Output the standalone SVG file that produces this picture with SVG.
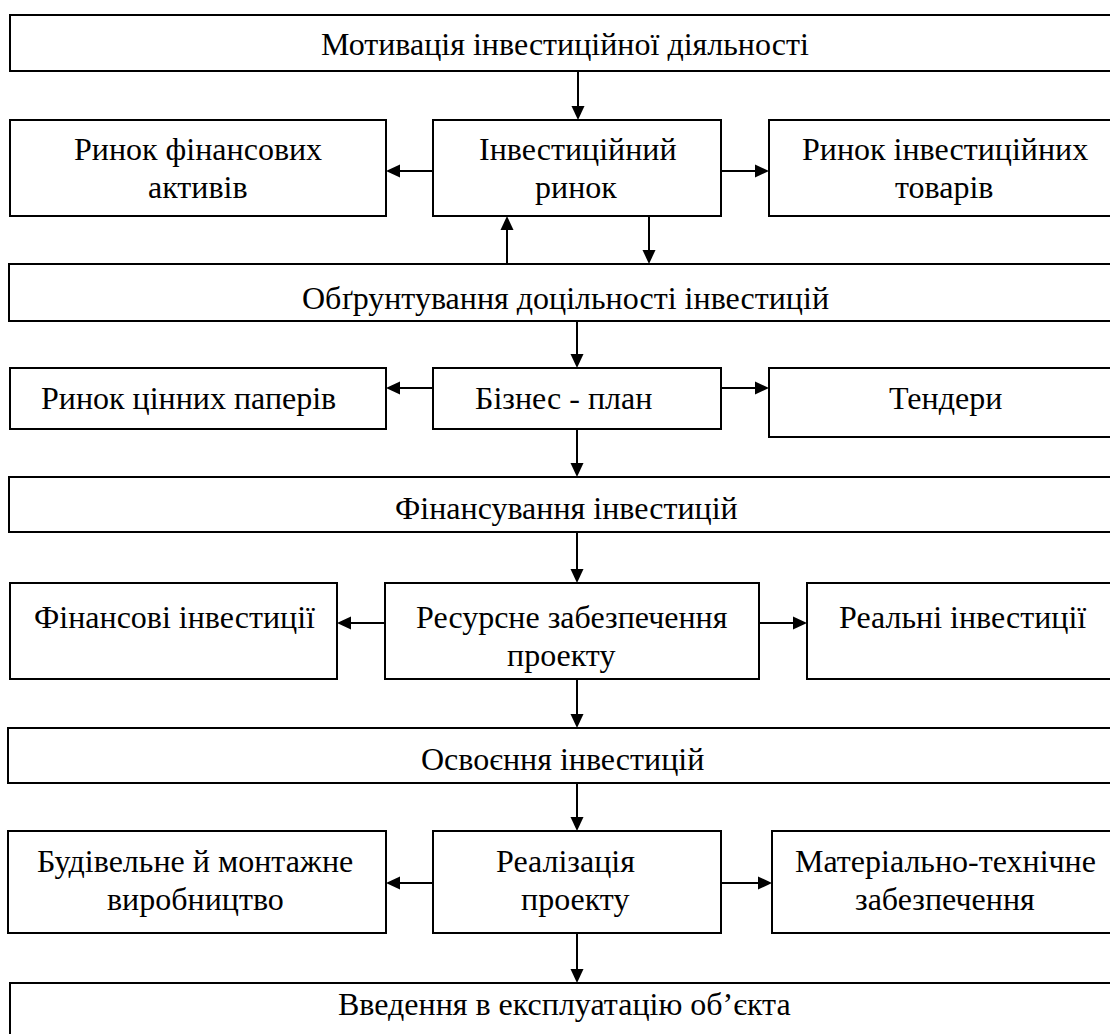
<svg xmlns="http://www.w3.org/2000/svg" width="1110" height="1034" viewBox="0 0 1110 1034">
  <defs>
    <!-- arrowhead, tip at origin, pointing along +x -->
    <path id="head" d="M0,0 L-14,-6.5 L-14,6.5 Z" fill="#000000"/>
  </defs>
  <rect width="1110" height="1034" fill="#ffffff"/>

  <!-- boxes share one stroke; each label line starts at its own x -->
  <g id="nodes" fill="#ffffff" stroke="#000000" stroke-width="2">
    <g id="motivation"><rect x="10" y="15" width="1115" height="56"/></g>
    <g id="fin-assets-market"><rect x="10" y="120" width="376" height="96"/></g>
    <g id="investment-market"><rect x="433" y="120" width="288" height="96"/></g>
    <g id="inv-goods-market"><rect x="769" y="120" width="355" height="96"/></g>
    <g id="feasibility"><rect x="9" y="264" width="1115" height="57"/></g>
    <g id="securities-market"><rect x="10" y="368" width="376" height="61"/></g>
    <g id="business-plan"><rect x="433" y="368" width="288" height="61"/></g>
    <g id="tenders"><rect x="769" y="368" width="355" height="69"/></g>
    <g id="financing"><rect x="9" y="477" width="1115" height="55"/></g>
    <g id="fin-investments"><rect x="10" y="583" width="327" height="96"/></g>
    <g id="resource-supply"><rect x="385" y="583" width="374" height="96"/></g>
    <g id="real-investments"><rect x="807" y="583" width="320" height="96"/></g>
    <g id="development"><rect x="8" y="728" width="1115" height="55"/></g>
    <g id="construction"><rect x="8" y="831" width="378" height="102"/></g>
    <g id="implementation"><rect x="433" y="831" width="288" height="102"/></g>
    <g id="logistics"><rect x="772" y="831" width="355" height="102"/></g>
    <g id="commissioning"><rect x="10" y="983" width="1115" height="70"/></g>
  </g>

  <text x="321" y="55" font-family="Liberation Serif" font-size="32">Мотивація інвестиційної діяльності</text>
  <text x="74" y="160" font-family="Liberation Serif" font-size="32">Ринок фінансових</text>
  <text x="148" y="198" font-family="Liberation Serif" font-size="32">активів</text>
  <text x="479" y="160" font-family="Liberation Serif" font-size="32">Інвестиційний</text>
  <text x="535" y="198" font-family="Liberation Serif" font-size="32">ринок</text>
  <text x="802" y="160" font-family="Liberation Serif" font-size="32">Ринок інвестиційних</text>
  <text x="895" y="198" font-family="Liberation Serif" font-size="32">товарів</text>
  <text x="302" y="309" font-family="Liberation Serif" font-size="32">Обґрунтування доцільності інвестицій</text>
  <text x="41" y="409" font-family="Liberation Serif" font-size="32">Ринок цінних паперів</text>
  <text x="475" y="409" font-family="Liberation Serif" font-size="32">Бізнес - план</text>
  <text x="889" y="409" font-family="Liberation Serif" font-size="32">Тендери</text>
  <text x="395" y="519" font-family="Liberation Serif" font-size="32">Фінансування інвестицій</text>
  <text x="34" y="628" font-family="Liberation Serif" font-size="32">Фінансові інвестиції</text>
  <text x="416" y="628" font-family="Liberation Serif" font-size="32">Ресурсне забезпечення</text>
  <text x="507" y="666" font-family="Liberation Serif" font-size="32">проекту</text>
  <text x="839" y="628" font-family="Liberation Serif" font-size="32">Реальні інвестиції</text>
  <text x="421" y="770" font-family="Liberation Serif" font-size="32">Освоєння інвестицій</text>
  <text x="37" y="872" font-family="Liberation Serif" font-size="32">Будівельне й монтажне</text>
  <text x="107" y="910" font-family="Liberation Serif" font-size="32">виробництво</text>
  <text x="496" y="872" font-family="Liberation Serif" font-size="32">Реалізація</text>
  <text x="521" y="910" font-family="Liberation Serif" font-size="32">проекту</text>
  <text x="795" y="872" font-family="Liberation Serif" font-size="32">Матеріально-технічне</text>
  <text x="855" y="910" font-family="Liberation Serif" font-size="32">забезпечення</text>
  <text x="338" y="1015" font-family="Liberation Serif" font-size="32">Введення в експлуатацію об’єкта</text>

  <g id="connectors">
    <g stroke="#000000" stroke-width="2" fill="none">
      <line x1="578" y1="71" x2="578" y2="107"/>
      <line x1="433" y1="171" x2="399" y2="171"/>
      <line x1="721" y1="171" x2="756" y2="171"/>
      <line x1="507" y1="264" x2="507" y2="229"/>
      <line x1="649" y1="216" x2="649" y2="251"/>
      <line x1="577" y1="321" x2="577" y2="355"/>
      <line x1="433" y1="388" x2="399" y2="388"/>
      <line x1="721" y1="388" x2="756" y2="388"/>
      <line x1="577" y1="429" x2="577" y2="464"/>
      <line x1="577" y1="532" x2="577" y2="570"/>
      <line x1="385" y1="623" x2="350" y2="623"/>
      <line x1="759" y1="623" x2="794" y2="623"/>
      <line x1="577" y1="679" x2="577" y2="715"/>
      <line x1="577" y1="783" x2="577" y2="818"/>
      <line x1="433" y1="883" x2="399" y2="883"/>
      <line x1="721" y1="883" x2="759" y2="883"/>
      <line x1="577" y1="933" x2="577" y2="970"/>
    </g>
    <use href="#head" transform="translate(578,120) rotate(90)"/>
    <use href="#head" transform="translate(386,171) rotate(180)"/>
    <use href="#head" transform="translate(769,171)"/>
    <use href="#head" transform="translate(507,216) rotate(-90)"/>
    <use href="#head" transform="translate(649,264) rotate(90)"/>
    <use href="#head" transform="translate(577,368) rotate(90)"/>
    <use href="#head" transform="translate(386,388) rotate(180)"/>
    <use href="#head" transform="translate(769,388)"/>
    <use href="#head" transform="translate(577,477) rotate(90)"/>
    <use href="#head" transform="translate(577,583) rotate(90)"/>
    <use href="#head" transform="translate(337,623) rotate(180)"/>
    <use href="#head" transform="translate(807,623)"/>
    <use href="#head" transform="translate(577,728) rotate(90)"/>
    <use href="#head" transform="translate(577,831) rotate(90)"/>
    <use href="#head" transform="translate(386,883) rotate(180)"/>
    <use href="#head" transform="translate(772,883)"/>
    <use href="#head" transform="translate(577,983) rotate(90)"/>
  </g>
</svg>
